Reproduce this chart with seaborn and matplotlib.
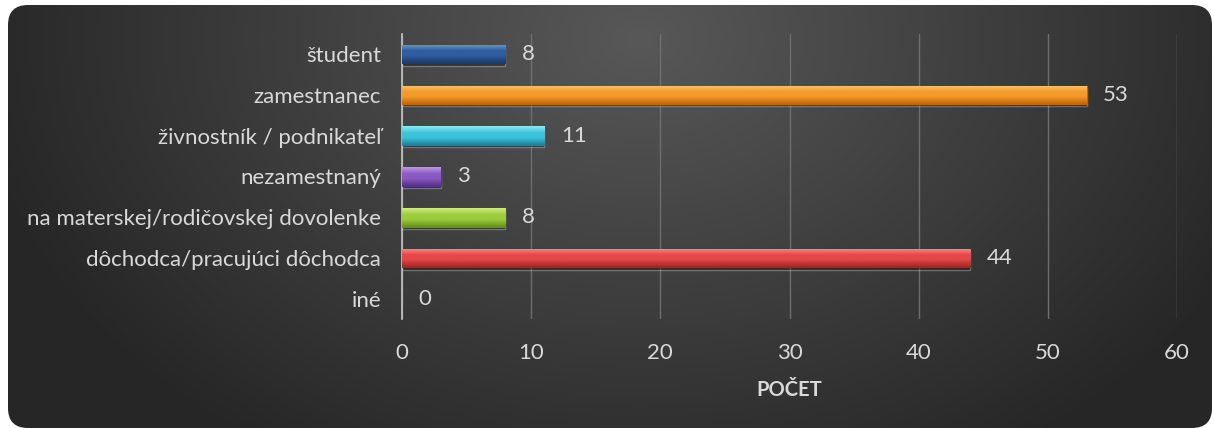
import matplotlib
matplotlib.use("Agg")
import matplotlib.pyplot as plt
import numpy as np
import pandas as pd
import seaborn as sns
from matplotlib.colors import to_rgb
from matplotlib.patches import FancyBboxPatch

categories = [
    "študent",
    "zamestnanec",
    "živnostník / podnikateľ",
    "nezamestnaný",
    "na materskej/rodičovskej dovolenke",
    "dôchodca/pracujúci dôchodca",
    "iné",
]
counts = [8, 53, 11, 3, 8, 44, 0]
x_ticks = [0, 10, 20, 30, 40, 50, 60]
x_label = "POČET"

# light / base / dark shades for the bevelled bars
bar_shades = [
    ("#6a98d8", "#2f5e9e", "#1b3b6a"),
    ("#ffc56a", "#f59a2a", "#c0680c"),
    ("#8aeaf7", "#3cc3dc", "#1c8499"),
    ("#bb96ea", "#8a5ac4", "#57318a"),
    ("#cdef7a", "#9ccc3c", "#66901c"),
    ("#ff8a8a", "#e64848", "#a42626"),
    ("#999999", "#777777", "#555555"),
]

W, H, DPI = 1214, 428, 100
TEXT = "#d9d9d9"
FS = 16

sns.set_theme(style="white")
plt.rcParams["font.family"] = ["Lato", "DejaVu Sans"]

fig = plt.figure(figsize=(W / DPI, H / DPI), dpi=DPI)
fig.patch.set_facecolor("white")

# background panel with radial gradient and rounded corners
bg = fig.add_axes([0, 0, 1, 1], zorder=-5)
bg.set_xlim(0, W)
bg.set_ylim(0, H)
bg.axis("off")
gx, gy = np.meshgrid(np.linspace(0, W, 400), np.linspace(H, 0, 150))
d = np.sqrt(((gx - 640) / 680) ** 2 + ((gy - 390) / 500) ** 2)
d = np.clip(d, 0, 1)
c_in, c_out = np.array(to_rgb("#585858")), np.array(to_rgb("#262626"))
img = c_in[None, None, :] * (1 - d[..., None]) + c_out[None, None, :] * d[..., None]
panel = FancyBboxPatch((8, 0), W - 10, H - 5,
                       boxstyle="round,pad=0,rounding_size=20",
                       transform=bg.transData, facecolor="none", edgecolor="none")
bg.add_patch(panel)
im = bg.imshow(img, extent=(0, W, 0, H), aspect="auto", origin="upper")
im.set_clip_path(panel)

ax = fig.add_axes([402 / W, 108.6 / H, 775 / W, 285.8 / H])
ax.set_facecolor("none")

df = pd.DataFrame({"kategoria": categories, "pocet": counts})
sns.barplot(data=df, x="pocet", y="kategoria", hue="kategoria",
            palette=[s[1] for s in bar_shades], orient="h", width=0.45,
            legend=False, ax=ax, zorder=3)

ax.set_xlim(0, 60)
ylim = ax.get_ylim()
for patch, (lt, base, dk) in zip(ax.patches, bar_shades):
    x0, y0 = patch.get_x(), patch.get_y()
    w, h = patch.get_width(), patch.get_height()
    if w <= 0:
        patch.set_visible(False)
        continue
    t = np.linspace(0, 1, 40)
    stops = np.array([to_rgb(lt), to_rgb(base), to_rgb(base), to_rgb(dk)])
    pos = np.array([0.0, 0.35, 0.6, 1.0])
    grad = np.stack([np.interp(t, pos, stops[:, k]) for k in range(3)], axis=-1)
    gim = ax.imshow(grad[:, None, :], extent=(x0, x0 + w, y0 + h, y0),
                    aspect="auto", origin="upper", zorder=4)
    gim.set_clip_path(patch)
    patch.set_edgecolor(dk)
    patch.set_linewidth(0.8)
    # soft shadow below the bar
    ax.barh(y0 + h / 2 + 0.06, w, height=h, left=0, color="black",
            alpha=0.3, zorder=2)
ax.set_ylim(ylim)
ax.set_xlim(0, 60)

for i, v in enumerate(counts):
    ax.annotate(str(v), (v, i), xytext=(12, 0), textcoords="offset points",
                va="center", ha="left", color=TEXT, fontsize=FS, zorder=6)

ax.set_xticks(x_ticks)
ax.xaxis.grid(True, color="#6e6e6e", linewidth=1)
ax.yaxis.grid(False)
ax.set_axisbelow(True)
for side in ["top", "right", "bottom"]:
    ax.spines[side].set_visible(False)
ax.spines["left"].set_color("#c8c8c8")
ax.spines["left"].set_linewidth(1.2)
ax.tick_params(axis="x", colors=TEXT, labelsize=FS, length=0, pad=17)
ax.tick_params(axis="y", colors=TEXT, labelsize=FS, length=0, pad=15)
ax.set_ylabel("")
ax.set_xlabel(x_label, color=TEXT, fontsize=14.5, fontweight="bold", labelpad=12)

fig.savefig("out.png", dpi=DPI, facecolor=fig.get_facecolor())
